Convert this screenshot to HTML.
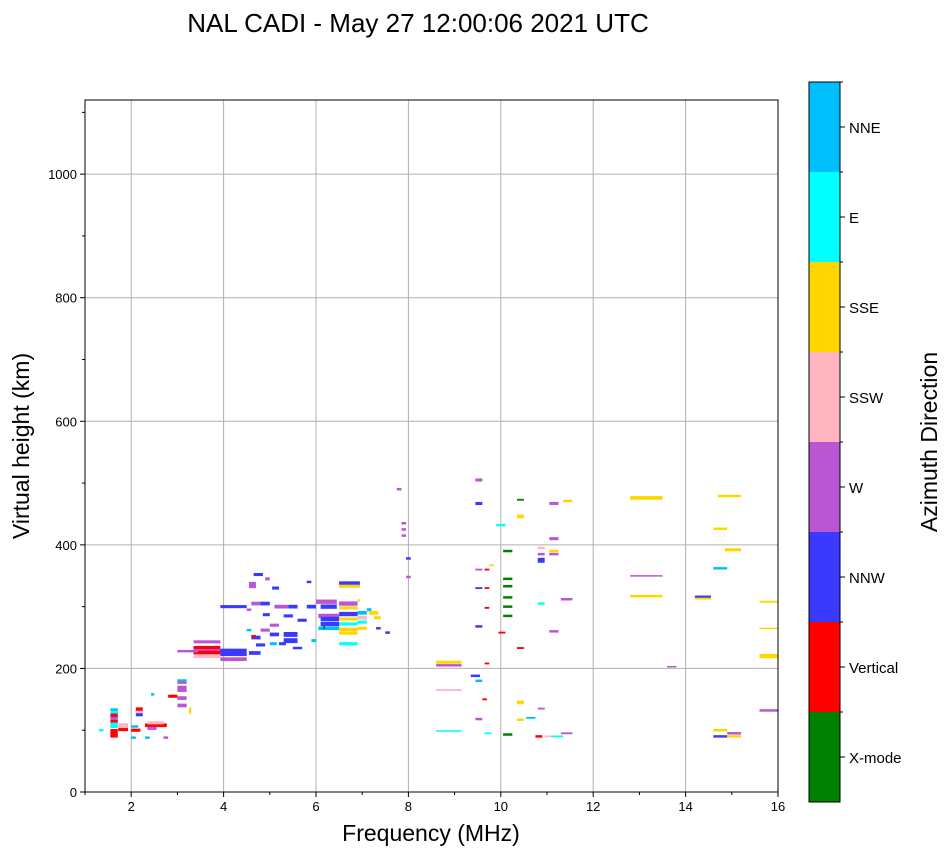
<!DOCTYPE html>
<html><head><meta charset="utf-8"><style>
body{margin:0;background:#fff;}
svg text{font-family:"Liberation Sans",sans-serif;}
</style></head><body>
<svg id="chart" width="951" height="856" viewBox="0 0 951 856" xmlns="http://www.w3.org/2000/svg">
<text x="418" y="32" font-size="26" text-anchor="middle">NAL CADI - May 27 12:00:06 2021 UTC</text>
<g id="grid"></g>
<g id="marks"></g>
<g id="axes"></g>
<text x="431" y="841" font-size="23" text-anchor="middle">Frequency (MHz)</text>
<text transform="translate(29,446) rotate(-90)" font-size="23" text-anchor="middle">Virtual height (km)</text>
<g id="cbar"></g>
<text transform="translate(937,442) rotate(-90)" font-size="23" text-anchor="middle">Azimuth Direction</text>
</svg>
<script>
const xTicks=[2,4,6,8,10,12,14,16];
const yTicks=[0,200,400,600,800,1000];
const dirNames=["X-mode","Vertical","NNW","W","SSW","SSE","E","NNE"];
const dirColors=["#008000","#ff0000","#3a3aff","#ba55d3","#ffb6c1","#ffd700","#00ffff","#00bfff"];
// echoes: start freq, end freq, virtual height, height spread, direction index
const fStart=[1.55,1.55,1.55,1.55,1.55,1.55,1.55,1.72,1.72,2.1,2.1,2.1,2.0,2.3,2.35,2.35,2.0,2.8,3.0,3.0,3.0,3.0,3.0,3.25,2.43,3.35,3.35,3.35,3.35,3.35,3.0,3.93,3.93,3.93,1.3,2.0,2.3,2.7,
4.55,4.65,4.9,5.05,4.6,4.8,5.1,5.4,4.5,4.85,5.0,5.3,5.6,5.8,5.8,4.6,4.8,5.0,5.3,5.3,5.2,4.7,5.0,4.55,4.5,4.6,5.5,5.9,6.0,6.1,6.5,6.5,6.5,6.5,6.05,6.1,6.1,6.5,6.5,6.9,7.1,7.15,6.05,6.5,6.5,6.9,6.5,6.9,6.5,6.9,7.25,7.5,7.3,6.15,6.9,
9.45,9.45,9.9,10.35,10.35,11.05,11.35,11.05,12.8,14.6,14.7,14.6,14.85,15.6,15.6,15.6,15.6,14.2,14.2,12.8,12.8,13.6,14.6,14.6,14.9,14.9,8.6,8.6,8.6,8.6,9.35,9.45,9.65,9.6,9.45,9.65,10.05,10.35,10.35,10.55,10.75,10.95,11.1,11.3,10.8,10.35,9.95,9.65,9.45,9.45,9.65,9.45,9.65,9.75,10.05,10.05,10.05,10.05,10.05,10.05,10.8,10.8,10.8,11.05,11.05,10.8,11.3,11.05,7.75,7.85,7.85,7.85,7.95,7.95];
const fEnd=[1.71,1.71,1.71,1.71,1.71,1.71,1.71,1.93,1.93,2.25,2.25,2.25,2.2,2.77,2.7,2.55,2.15,3.0,3.2,3.2,3.2,3.2,3.2,3.3,2.5,3.93,3.93,3.93,3.93,3.93,3.45,4.5,4.5,4.5,1.4,2.1,2.4,2.8,
4.7,4.85,5.0,5.2,4.8,5.0,5.4,5.6,4.6,5.0,5.2,5.5,5.8,6.0,5.9,4.8,5.0,5.2,5.6,5.6,5.35,4.9,5.15,4.8,4.6,4.7,5.7,6.0,6.45,6.45,6.9,6.9,6.95,6.95,6.5,6.5,6.5,6.9,6.9,7.1,7.2,7.35,6.5,6.9,6.9,7.1,6.9,7.1,6.9,7.1,7.4,7.6,7.4,6.2,6.95,
9.6,9.6,10.1,10.5,10.5,11.25,11.55,11.25,13.5,14.9,15.2,14.9,15.2,16,16,16,16,14.55,14.55,13.5,13.5,13.8,14.9,14.9,15.2,15.2,9.15,9.15,9.15,9.15,9.55,9.6,9.75,9.7,9.6,9.8,10.25,10.5,10.5,10.75,10.9,11.15,11.35,11.55,10.95,10.5,10.1,9.75,9.6,9.6,9.75,9.6,9.75,9.85,10.25,10.25,10.25,10.25,10.25,10.25,10.95,10.95,10.95,11.25,11.25,10.95,11.55,11.25,7.85,7.95,7.95,7.95,8.05,8.05];
const heights=[133,129,124,119,114,108,95,107,101,133,129,125,100,108,112,103,106,155,180,177,167,152,140,132,158,243,233,229,225,220,228,226,215,300,100,88,88,88,
335,352,345,330,305,305,300,300,295,287,270,285,278,300,340,250,262,255,255,245,240,238,240,225,262,252,233,245,308,300,305,298,338,333,285,280,272,288,280,290,295,290,265,263,257,265,240,282,272,275,282,258,265,266,310,
505,467,432,473,446,467,471,410,476,426,479,362,392,308,265,220,132,316,313,350,317,203,100,90,95,90,210,205,165,99,188,180,208,150,118,95,93,145,117,120,90,90,90,95,135,233,258,298,268,330,330,360,360,367,390,345,333,315,300,285,395,385,375,390,385,305,312,260,490,435,425,415,378,348];
const spread=[5,5,6,5,5,9,14,9,5,8,5,5,5,6,5,5,4,5,5,4,10,6,6,10,4,5,7,5,7,6,4,12,6,5,4,4,4,4,
10,5,5,5,6,6,6,6,4,5,5,5,5,6,4,6,5,6,8,8,5,5,5,6,4,4,4,5,7,7,7,5,6,5,7,7,7,7,5,6,5,6,6,6,5,5,5,6,5,5,5,4,4,5,4,
5,5,4,3,6,5,4,5,6,4,4,4,5,3,2,7,4,4,3,2,4,2,4,4,4,4,5,4,3,2,4,4,3,3,4,3,4,6,4,3,4,3,3,3,3,3,3,3,4,3,3,3,3,3,4,4,4,4,4,4,4,4,8,4,4,4,4,4,4,4,4,4,4,4];
const dirs=[7,6,1,3,1,6,1,4,1,1,4,2,1,1,4,3,7,1,7,3,3,3,3,5,7,3,1,3,1,4,3,2,3,2,6,7,7,3,
3,2,3,2,3,2,3,2,3,2,3,2,2,2,2,2,3,2,2,2,2,2,7,2,7,1,2,7,3,2,3,5,2,5,3,2,2,2,5,7,7,5,7,5,5,5,6,4,6,6,5,2,2,0,5,
3,2,6,0,5,3,5,3,5,5,5,7,5,5,5,5,3,2,5,3,5,3,5,2,3,5,5,3,4,6,2,7,1,1,3,6,0,5,5,7,1,4,6,3,3,1,1,1,2,2,1,3,1,5,0,0,0,0,0,0,4,3,2,5,3,6,3,3,3,3,3,3,2,3];

const NS="http://www.w3.org/2000/svg";
const L=85,R=778,T=100,B=792,fMin=1,fMax=16,hMax=1120;
const xs=f=>L+(f-fMin)/(fMax-fMin)*(R-L);
const ys=h=>B-h/hMax*(B-T);
function mk(tag,attrs,parent){const e=document.createElementNS(NS,tag);for(const k in attrs)e.setAttribute(k,attrs[k]);parent.appendChild(e);return e;}
const grid=document.getElementById('grid'),axes=document.getElementById('axes'),marks=document.getElementById('marks'),cbar=document.getElementById('cbar');
xTicks.forEach(v=>{const x=xs(v);
 if(v<16){const g=mk('line',{x1:x,x2:x,y1:T,y2:B,stroke:'#b0b0b0','stroke-width':1},grid);
 
 }
 mk('line',{x1:x,x2:x,y1:B,y2:B+5,stroke:'#000'},axes);
 const t=mk('text',{x:x,y:B+19,'font-size':13,'text-anchor':'middle'},axes);t.textContent=v;
 
 });
for(let v=1;v<=16;v+=2)mk('line',{x1:xs(v),x2:xs(v),y1:B,y2:B+3,stroke:'#000'},axes);
yTicks.forEach(v=>{const y=ys(v);
 if(v>0){const g=mk('line',{x1:L,x2:R,y1:y,y2:y,stroke:'#b0b0b0','stroke-width':1},grid);
 
 }
 mk('line',{x1:L-5,x2:L,y1:y,y2:y,stroke:'#000'},axes);
 const t=mk('text',{x:L-8,y:y+5,'font-size':13,'text-anchor':'end'},axes);t.textContent=v;
 
 });
for(let v=100;v<=1100;v+=200)mk('line',{x1:L-3,x2:L,y1:ys(v),y2:ys(v),stroke:'#000'},axes);
mk('rect',{x:L,y:T,width:R-L,height:B-T,fill:'none',stroke:'#000','stroke-width':1},axes);
for(let i=0;i<fStart.length;i++){
 const y1=ys(heights[i]+spread[i]/2),y2=ys(heights[i]-spread[i]/2);
 const r=mk('rect',{x:xs(fStart[i]),y:y1,width:Math.max(1,xs(fEnd[i])-xs(fStart[i])),height:Math.max(1.5,y2-y1),fill:dirColors[dirs[i]]},marks);
 
 
}
const cT=82,cB=802,cL=809,cW=31,n=dirNames.length,bh=(cB-cT)/n;
dirNames.forEach((d,i)=>{const y=cB-(i+1)*bh;
 const r=mk('rect',{x:cL,y:y,width:cW,height:bh,fill:dirColors[i]},cbar);
 
 
 mk('line',{x1:cL+cW,x2:cL+cW+5,y1:y+bh/2,y2:y+bh/2,stroke:'#000'},cbar);
 mk('line',{x1:cL+cW,x2:cL+cW+3,y1:y,y2:y,stroke:'#000'},cbar);
 const t=mk('text',{x:cL+cW+9,y:y+bh/2+6,'font-size':15},cbar);t.textContent=d;
 
 });
mk('rect',{x:cL,y:cT,width:cW,height:cB-cT,fill:'none',stroke:'#000'},cbar);
</script>
</body></html>
